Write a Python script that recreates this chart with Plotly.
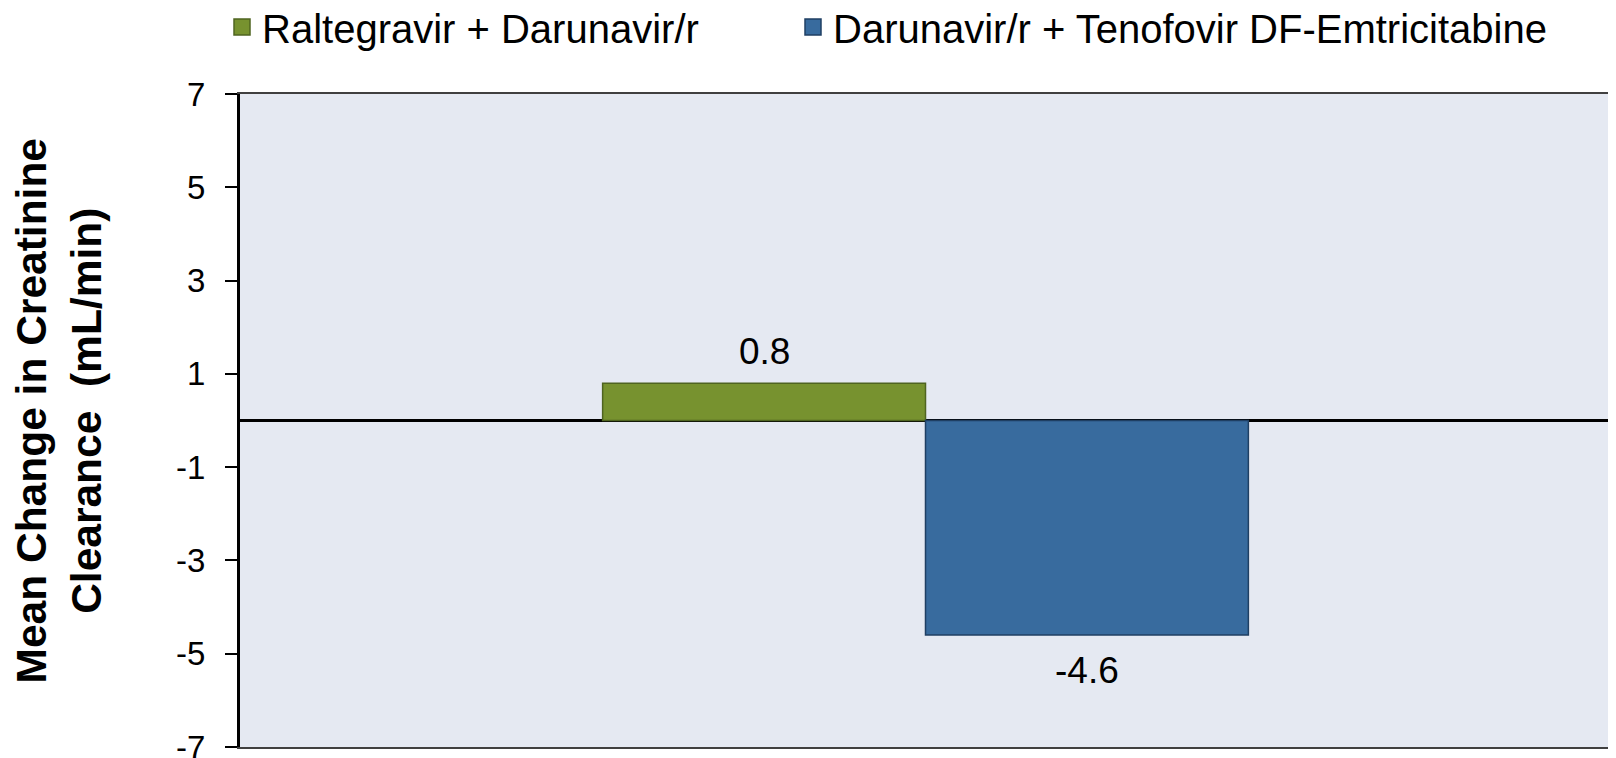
import plotly.graph_objects as go

series_names = ["Raltegravir + Darunavir/r", "Darunavir/r + Tenofovir DF-Emtricitabine"]
series_values = [0.8, -4.6]
series_colors = ["#77922F", "#386B9E"]
series_lines = ["#4F6420", "#1F3F63"]
label_texts = ["0.8", "-4.6"]
y_ticks = [7, 5, 3, 1, -1, -3, -5, -7]
category = [0]

FONT = "Liberation Sans, Arial, sans-serif"
W, H = 1608, 750

fig = go.Figure()
legend_ids = ["legend", "legend2"]
for name, val, col, lc in zip(series_names, series_values, series_colors, series_lines):
    fig.add_trace(go.Bar(
        x=category, y=[val], name=name, showlegend=False,
        marker=dict(color=col, line=dict(color=lc, width=1.5)),
    ))
# legend entries (square swatches)
for name, col, lc, lg in zip(series_names, series_colors, series_lines, legend_ids):
    fig.add_trace(go.Scatter(
        x=[None], y=[None], mode="markers", name=name, legend=lg,
        marker=dict(symbol="square", size=16, color=col, line=dict(color=lc, width=1.5)),
    ))

# data labels placed via data coordinates
n = len(series_values)
group_w = 0.471
bw = group_w / n
for i, (val, txt) in enumerate(zip(series_values, label_texts)):
    xc = category[0] - group_w / 2 + bw * (i + 0.5)
    fig.add_annotation(
        x=xc, y=val, text=txt, showarrow=False,
        yshift=32 if val >= 0 else -35,
        font=dict(family=FONT, size=37, color="#000000"),
    )

# y-axis title as rotated annotation
fig.add_annotation(
    xref="paper", yref="paper", x=0, y=0.5, xanchor="center", yanchor="middle",
    xshift=-182, yshift=10, textangle=-90, showarrow=False,
    text="<b>Mean Change in Creatinine<br>Clearance  (mL/min)</b>",
    font=dict(family=FONT, size=42.5, color="#000000"),
)

leg_common = dict(
    orientation="h", yanchor="middle", yref="container", xref="container",
    xanchor="left", font=dict(family=FONT, size=40, color="#000000"),
    bgcolor="rgba(0,0,0,0)", borderwidth=0, itemsizing="trace",
)

fig.update_layout(
    width=W, height=H,
    paper_bgcolor="#FFFFFF", plot_bgcolor="#E5E9F2",
    barmode="group", bargap=1 - group_w, bargroupgap=0,
    margin=dict(l=232, r=5, t=86, b=11, autoexpand=False),
    font=dict(family=FONT, color="#000000"),
    showlegend=True,
    legend=dict(x=214 / W, y=1 - 19 / H, **leg_common),
    legend2=dict(x=785 / W, y=1 - 19 / H, **leg_common),
)

fig.update_xaxes(
    range=[-0.5, 0.5], showticklabels=False, ticks="", showgrid=False,
    zeroline=False, showline=True, mirror=True, linecolor="#404040", linewidth=1.5,
)
fig.update_yaxes(
    range=[-7, 7], tickvals=y_ticks, ticktext=[str(v) for v in y_ticks],
    ticks="outside", ticklen=12, tickwidth=2, tickcolor="#000000",
    ticklabelstandoff=13, ticklabeloverflow="allow",
    tickfont=dict(family=FONT, size=33, color="#000000"),
    showgrid=False, showline=True, mirror=True, linecolor="#000000", linewidth=3,
    zeroline=True, zerolinecolor="#000000", zerolinewidth=3,
    automargin=False,
)

fig.write_html("out.html")
